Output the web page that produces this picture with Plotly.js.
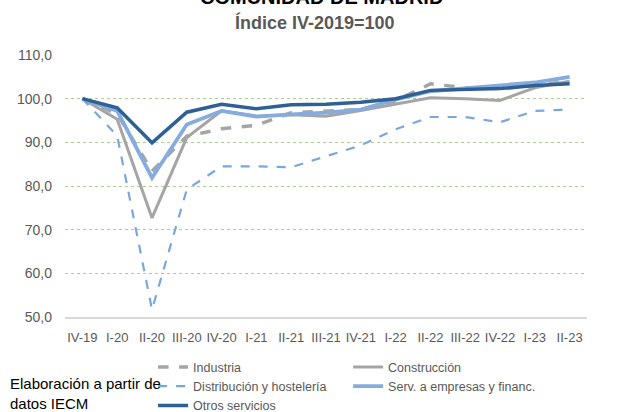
<!DOCTYPE html>
<html><head><meta charset="utf-8">
<script src="https://cdn.plot.ly/plotly-3.0.1.min.js"></script>
<style>html,body{margin:0;padding:0;background:#fff}#chart{width:630px;height:412px}</style>
</head><body><div id="chart"></div>
<script>
const categories = ["IV-19","I-20","II-20","III-20","IV-20","I-21","II-21","III-21","IV-21","I-22","II-22","III-22","IV-22","I-23","II-23"];
const industria     = [100.0, 96.5, 83.4, 91.4, 93.1, 93.9, 96.8, 97.2, 97.5, 99.5, 103.4, 102.5, 102.3, 103.0, 104.0];
const construccion  = [100.0, 95.3, 72.7, 91.1, 97.2, 96.0, 96.3, 96.0, 97.3, 98.7, 100.2, 100.0, 99.6, 102.5, 104.0];
const distribucion  = [100.0, 91.5, 51.7, 79.2, 84.5, 84.5, 84.3, 86.8, 89.3, 93.0, 95.8, 95.8, 94.6, 97.2, 97.5];
const servEmpresas  = [100.0, 97.2, 81.9, 94.1, 97.2, 95.9, 96.4, 96.8, 97.5, 99.8, 101.7, 102.3, 103.0, 103.7, 105.0];
const otrosServicios= [100.0, 97.9, 89.9, 96.9, 98.7, 97.7, 98.6, 98.7, 99.2, 100.0, 101.9, 102.1, 102.3, 103.0, 103.4];
const seriesNames = ["Industria","Construcción","Distribución y hostelería","Serv. a empresas y financ.","Otros servicios"];
const yTicks = [50,60,70,80,90,100,110];

const FONT = "Liberation Sans, Arial, sans-serif";
const traces = [
  {y: industria, name: seriesNames[0], line:{color:'#a5a5a5', width:3.5, dash:'dash'}},
  {y: construccion, name: seriesNames[1], line:{color:'#a5a5a5', width:3}},
  {y: distribucion, name: seriesNames[2], line:{color:'#7aa7db', width:2.2, dash:'dash'}},
  {y: servEmpresas, name: seriesNames[3], line:{color:'#85acdc', width:3.8}},
  {y: otrosServicios, name: seriesNames[4], line:{color:'#2e5f95', width:3.5}}
].map(t => Object.assign({x: categories, type:'scatter', mode:'lines', hoverinfo:'skip'}, t));

const layout = {
  width:630, height:412,
  margin:{l:65, r:43, t:55, b:95},
  paper_bgcolor:'#fff', plot_bgcolor:'#fff',
  separators: ',.',
  font:{family:FONT, color:'#595959', size:13},
  showlegend:true,
  xaxis:{type:'category', tickvals:categories, ticktext:categories, showgrid:false,
         showline:true, linecolor:'#d9d9d9', linewidth:1.5, ticks:'', tickangle:0,
         ticklabelstandoff:8,
         tickfont:{size:13, color:'#595959'}, range:[-0.5,14.5], fixedrange:true},
  yaxis:{range:[50,110], tickvals:yTicks, tickformat:'.1f', showgrid:true,
         gridcolor:'#a9d18e', griddash:'dot', gridwidth:1, zeroline:false,
         showline:false, ticks:'', tickfont:{size:14, color:'#595959'},
         ticklabelstandoff:12, fixedrange:true},
  legend:{orientation:'h', xref:'container', x:0.243, xanchor:'left', yref:'container', y:0.145, yanchor:'top',
          entrywidth:150, entrywidthmode:'pixels', traceorder:'normal',
          font:{size:12.5, color:'#595959', family:FONT}, tracegroupgap:0, itemwidth:30},
  annotations:[
    {text:'<b>COMUNIDAD DE MADRID</b>', xref:'paper', yref:'paper', x:(321-65)/522, y:(317+3)/262, yanchor:'middle', xanchor:'center',
     showarrow:false, font:{size:20, color:'#000', family:FONT}},
    {text:'<b>Índice IV-2019=100</b>', xref:'paper', yref:'paper', x:(315-65)/522, y:(317-22)/262, yanchor:'middle', xanchor:'center',
     showarrow:false, font:{size:18, color:'#595959', family:FONT}},
    {text:'Elaboración a partir de<br>datos IECM', xref:'paper', yref:'paper', x:-57/522, y:(317-393)/262,
     xanchor:'left', yanchor:'middle', align:'left', showarrow:false, font:{size:15, color:'#000', family:FONT}}
  ]
};
Plotly.newPlot('chart', traces, layout, {staticPlot:true, displayModeBar:false});
</script></body></html>
